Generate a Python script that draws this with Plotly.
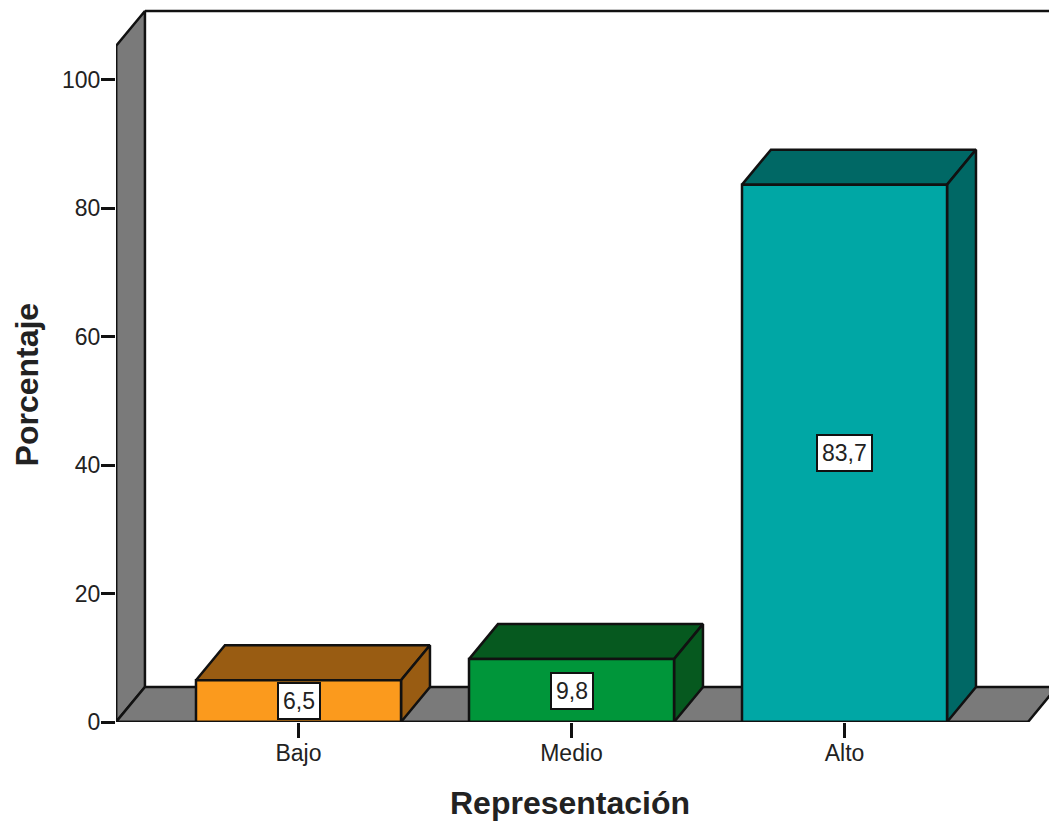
import plotly.graph_objects as go

# Chart values
categories = ["Bajo", "Medio", "Alto"]
percentages = [6.5, 9.8, 83.7]
value_labels = ["6,5", "9,8", "83,7"]
y_ticks = [0, 20, 40, 60, 80, 100]

# Face colours per bar: front, then the darker top and side
front_colors = ["#FB9A1D", "#00963A", "#00A7A5"]
shade_colors = ["#995C12", "#06591F", "#006865"]
WALL = "#7A7A7A"
EDGE = "#111111"
LINE_WIDTH = 2.5

# Oblique projection offsets and bar/floor extents, in axis units
DEPTH_X = 0.106
DEPTH_Y = 5.45
BAR_HALF = 0.3755
WALL_TOP = 105.3
X_MIN, X_MAX = -0.6685, 2.749
FLOOR_END = 2.672
Y_MAX = 112.46


def face(points, fill):
    xs, ys = zip(*(points + points[:1]))
    return go.Scatter(
        x=xs, y=ys, mode="lines", fill="toself", fillcolor=fill,
        line=dict(color=EDGE, width=LINE_WIDTH), cliponaxis=False,
        hoverinfo="skip", showlegend=False,
    )


def edge(xs, ys):
    return go.Scatter(
        x=xs, y=ys, mode="lines", line=dict(color=EDGE, width=LINE_WIDTH),
        cliponaxis=False, hoverinfo="skip", showlegend=False,
    )


fig = go.Figure()

# Left wall and floor of the chart box
fig.add_trace(face([(X_MIN, 0), (X_MIN, WALL_TOP),
                    (X_MIN + DEPTH_X, WALL_TOP + DEPTH_Y), (X_MIN + DEPTH_X, DEPTH_Y)], WALL))
fig.add_trace(face([(X_MIN, 0), (FLOOR_END, 0),
                    (FLOOR_END + DEPTH_X, DEPTH_Y), (X_MIN + DEPTH_X, DEPTH_Y)], WALL))
fig.add_trace(edge([X_MIN + DEPTH_X, X_MAX + 0.2], [WALL_TOP + DEPTH_Y] * 2))

# Bars: top, side and front faces
for i, value in enumerate(percentages):
    left, right = i - BAR_HALF, i + BAR_HALF
    fig.add_trace(face([(left, value), (right, value),
                        (right + DEPTH_X, value + DEPTH_Y), (left + DEPTH_X, value + DEPTH_Y)],
                       shade_colors[i]))
    fig.add_trace(face([(right, 0), (right + DEPTH_X, DEPTH_Y),
                        (right + DEPTH_X, value + DEPTH_Y), (right, value)], shade_colors[i]))
    fig.add_trace(face([(left, 0), (right, 0), (right, value), (left, value)], front_colors[i]))
    fig.add_annotation(
        x=i, y=value / 2, text=value_labels[i], showarrow=False,
        font=dict(family="Liberation Sans", size=23, color="#222222"),
        bgcolor="white", bordercolor=EDGE, borderwidth=2, borderpad=4,
    )

# Front edges of the box, drawn over the faces
fig.add_trace(edge([X_MIN, FLOOR_END], [0, 0]))
fig.add_trace(edge([X_MIN, X_MIN], [0, WALL_TOP]))

# Axis titles
fig.add_annotation(
    xref="paper", yref="paper", x=0.487, y=-0.1122, xanchor="center", yanchor="middle",
    text="<b>Representación</b>", showarrow=False,
    font=dict(family="Liberation Sans", size=32, color="#222222"),
)
fig.add_annotation(
    xref="paper", yref="paper", x=-0.0954, y=0.4675, xanchor="center", yanchor="middle",
    text="<b>Porcentaje</b>", textangle=-90, showarrow=False,
    font=dict(family="Liberation Sans", size=32, color="#222222"),
)

fig.update_layout(
    width=1049, height=821,
    margin=dict(l=116, r=0, t=0, b=99),
    paper_bgcolor="white", plot_bgcolor="white",
    showlegend=False,
    font=dict(family="Liberation Sans", color="#222222"),
    xaxis=dict(
        range=[X_MIN, X_MAX], tickvals=[0, 1, 2], ticktext=categories,
        ticks="outside", ticklen=15, tickwidth=2.5, tickcolor=EDGE,
        tickfont=dict(size=23), ticklabelstandoff=-5,
        showgrid=False, zeroline=False, showline=False,
    ),
    yaxis=dict(
        range=[0, Y_MAX], tickvals=y_ticks,
        ticks="outside", ticklen=14, tickwidth=2.5, tickcolor=EDGE,
        tickfont=dict(size=23), ticklabelstandoff=-4,
        showgrid=False, zeroline=False, showline=False,
    ),
)

fig.write_html("out.html")
